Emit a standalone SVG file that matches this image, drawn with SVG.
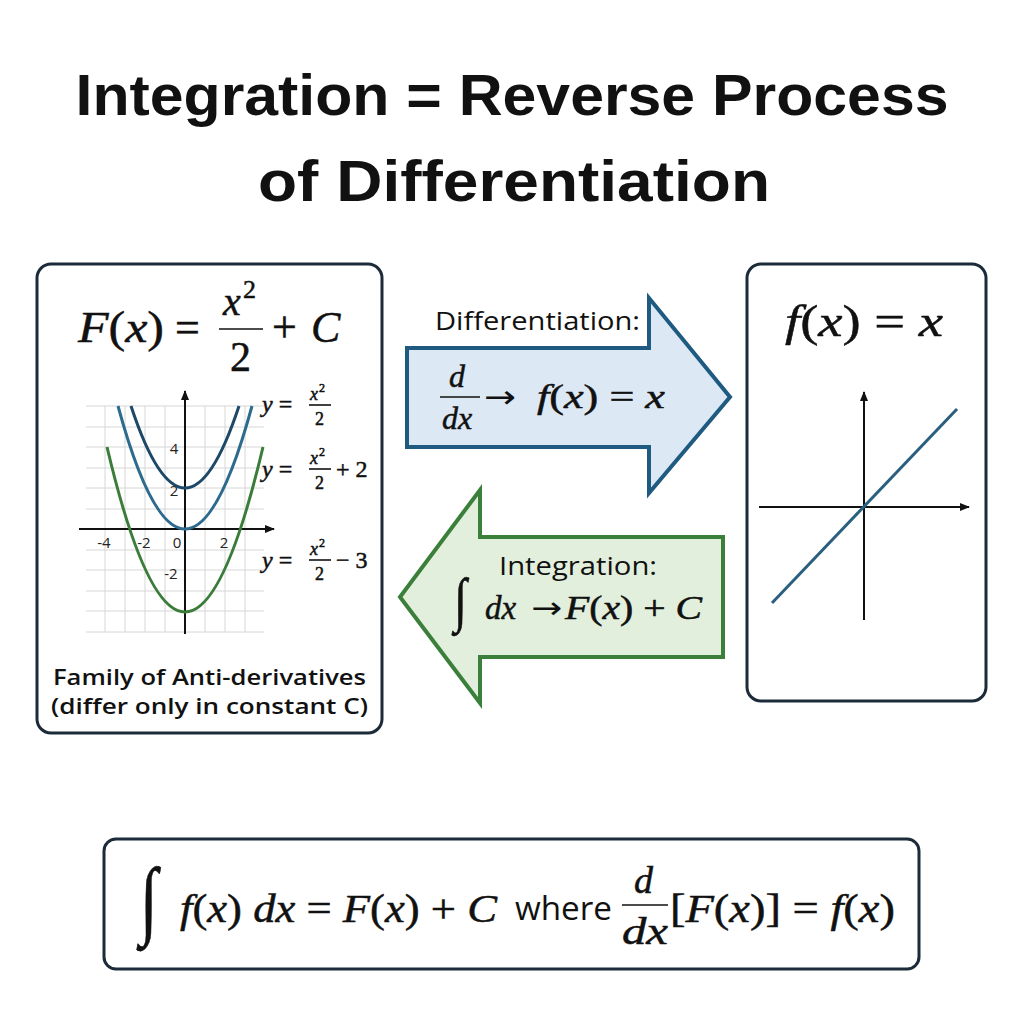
<svg xmlns="http://www.w3.org/2000/svg" width="1024" height="1024" viewBox="0 0 1024 1024">
<defs>
<style>
.title{font-family:"Liberation Sans","Open Sans",sans-serif;font-weight:bold;font-size:58px;fill:#111;text-anchor:middle}
.sans{font-family:"Open Sans","Liberation Sans",sans-serif;fill:#111}
.semi{font-weight:600}
.math{font-family:"Liberation Serif","DejaVu Serif",serif;fill:#111;stroke:#111;stroke-width:0.5}
.arr{font-family:"DejaVu Sans",sans-serif;fill:#111}
.it{font-style:italic}
.box{fill:#fff;stroke:#1c2b3a;stroke-width:3}
.grid{stroke:#d6d6d6;stroke-width:1;fill:none}
.axis{stroke:#111;stroke-width:2;fill:none}
.tick{font-family:"Open Sans","Liberation Sans",sans-serif;font-size:15px;fill:#222;text-anchor:middle}
.bar{stroke:#111;stroke-width:1.6}
</style>
<marker id="ah" viewBox="0 0 10 10" refX="9" refY="5" markerWidth="5" markerHeight="5" orient="auto"><path d="M0,1 L10,5 L0,9 Z" fill="#111"/></marker>
</defs>
<rect width="1024" height="1024" fill="#fff"/>

<g id="title">
<text class="title" x="512" y="115" textLength="873" lengthAdjust="spacingAndGlyphs">Integration = Reverse Process</text>
<text class="title" x="514" y="201" textLength="512" lengthAdjust="spacingAndGlyphs">of Differentiation</text>
</g>

<g id="antiderivative-box">
<rect class="box" x="37" y="264" width="345" height="469" rx="14"/>
<text class="math" font-size="44" x="78" y="342" textLength="86" lengthAdjust="spacingAndGlyphs"><tspan class="it">F</tspan>(<tspan class="it">x</tspan>)</text>
<text class="math" font-size="44" x="175" y="342">=</text>
<text class="math it" font-size="40" x="223" y="315">x</text>
<text class="math" font-size="26" x="243" y="298">2</text>
<line class="bar" x1="219" y1="329" x2="263" y2="329" stroke-width="2.4"/>
<text class="math" font-size="42" x="230" y="371">2</text>
<text class="math" font-size="44" x="272" y="342">+</text>
<text class="math it" font-size="44" x="311" y="342">C</text>

<g id="grid">
<path class="grid" d="M105,406V632M125,406V632M145,406V632M165,406V632M205,406V632M225,406V632M245,406V632M86,406H264M86,427H264M86,447H264M86,468H264M86,488H264M86,509H264M86,550H264M86,570H264M86,591H264M86,611H264M86,632H264"/>
<line class="axis" x1="79" y1="529" x2="274" y2="529" marker-end="url(#ah)"/>
<line class="axis" x1="185" y1="634" x2="185" y2="391" marker-end="url(#ah)"/>
<text class="tick" x="174" y="454">4</text>
<text class="tick" x="174" y="496">2</text>
<text class="tick" x="104" y="548">-4</text>
<text class="tick" x="144" y="548">-2</text>
<text class="tick" x="177" y="548">0</text>
<text class="tick" x="224" y="548">2</text>
<text class="tick" x="171" y="579">-2</text>
<path d="M107,447 Q185,777 263,447" fill="none" stroke="#3a7d3a" stroke-width="3"/>
<path d="M118,406 Q185,652 252,406" fill="none" stroke="#2c6a8e" stroke-width="3"/>
<path d="M131,406 Q185,570 239,406" fill="none" stroke="#1d4868" stroke-width="3"/>
</g>

<g id="curve-labels">
<text class="math" font-size="24" x="262" y="412"><tspan class="it">y</tspan> =</text>
<text class="math it" font-size="18" x="310" y="400">x</text><text class="math" font-size="12" x="319" y="392">2</text>
<line class="bar" x1="309" y1="405" x2="331" y2="405"/>
<text class="math" font-size="18" x="315" y="425">2</text>

<text class="math" font-size="24" x="262" y="477"><tspan class="it">y</tspan> =</text>
<text class="math it" font-size="18" x="310" y="464">x</text><text class="math" font-size="12" x="319" y="456">2</text>
<line class="bar" x1="309" y1="469" x2="331" y2="469"/>
<text class="math" font-size="18" x="315" y="489">2</text>
<text class="math" font-size="24" x="336" y="477">+ 2</text>

<text class="math" font-size="24" x="262" y="568"><tspan class="it">y</tspan> =</text>
<text class="math it" font-size="18" x="310" y="555">x</text><text class="math" font-size="12" x="319" y="547">2</text>
<line class="bar" x1="309" y1="560" x2="331" y2="560"/>
<text class="math" font-size="18" x="315" y="580">2</text>
<text class="math" font-size="24" x="336" y="568">− 3</text>
</g>

<text class="sans semi" font-size="22" x="53" y="685" textLength="313" lengthAdjust="spacingAndGlyphs">Family of Anti-derivatives</text>
<text class="sans semi" font-size="22" x="51" y="714" textLength="317" lengthAdjust="spacingAndGlyphs">(differ only in constant C)</text>
</g>

<g id="function-box">
<rect class="box" x="747" y="264" width="239" height="437" rx="14"/>
<text class="math" font-size="44" x="785" y="336" textLength="158" lengthAdjust="spacingAndGlyphs"><tspan class="it">f</tspan>(<tspan class="it">x</tspan>) = <tspan class="it">x</tspan></text>
<line class="axis" x1="759" y1="507" x2="969" y2="507" marker-end="url(#ah)"/>
<line class="axis" x1="864" y1="620" x2="864" y2="392" marker-end="url(#ah)"/>
<line x1="772" y1="603" x2="957" y2="409" stroke="#2a5f80" stroke-width="3"/>
</g>

<g id="connectors">
<g id="differentiation-arrow">
<path d="M407,348 L649,348 L649,298 L730,397 L649,493 L649,447 L407,447 Z" fill="#dce8f4" stroke="#1f5a80" stroke-width="4" stroke-linejoin="miter"/>
<text class="sans" font-size="25" x="435" y="330" textLength="205" lengthAdjust="spacingAndGlyphs">Differentiation:</text>
<text class="math it" font-size="32" x="449" y="387">d</text>
<line class="bar" x1="440" y1="397" x2="480" y2="397" stroke-width="2"/>
<text class="math it" font-size="32" x="442" y="429">dx</text>
<text class="arr" font-size="32" x="484" y="408" textLength="32" lengthAdjust="spacingAndGlyphs">→</text>
<text class="math" font-size="34" x="537" y="408" textLength="128" lengthAdjust="spacingAndGlyphs"><tspan class="it">f</tspan>(<tspan class="it">x</tspan>) = <tspan class="it">x</tspan></text>
</g>
<g id="integration-arrow">
<path d="M723,537 L723,657 L480,657 L480,703 L400,597 L480,490 L480,537 Z" fill="#e2efdc" stroke="#3b7f3b" stroke-width="4" stroke-linejoin="miter"/>
<text class="sans" font-size="26" x="499" y="575" textLength="158" lengthAdjust="spacingAndGlyphs">Integration:</text>
<text class="math" font-size="46" x="454" y="620" transform="translate(0,-186) scale(1,1.3)">∫</text>
<text class="math it" font-size="33" x="485" y="619">dx</text>
<text class="arr" font-size="30" x="531" y="618" textLength="31" lengthAdjust="spacingAndGlyphs">→</text>
<text class="math" font-size="33" x="565" y="619" textLength="137" lengthAdjust="spacingAndGlyphs"><tspan class="it">F</tspan>(<tspan class="it">x</tspan>) + <tspan class="it">C</tspan></text>
</g>
</g>

<g id="formula-box">
<rect class="box" x="104" y="839" width="815" height="130" rx="12"/>
<text class="math" font-size="64" x="140" y="928" transform="translate(0,-324.8) scale(1,1.35)">∫</text>
<text class="math" font-size="40" x="180" y="922" textLength="317" lengthAdjust="spacingAndGlyphs"><tspan class="it">f</tspan>(<tspan class="it">x</tspan>) <tspan class="it">dx</tspan> = <tspan class="it">F</tspan>(<tspan class="it">x</tspan>) + <tspan class="it">C</tspan></text>
<text class="sans" font-size="33" x="515" y="920" textLength="97" lengthAdjust="spacingAndGlyphs">where</text>
<text class="math it" font-size="38" x="634" y="893">d</text>
<line class="bar" x1="622" y1="905" x2="668" y2="905" stroke-width="2.2"/>
<text class="math it" font-size="38" x="622" y="944" textLength="46" lengthAdjust="spacingAndGlyphs">dx</text>
<text class="math" font-size="40" x="670" y="922" textLength="225" lengthAdjust="spacingAndGlyphs">[<tspan class="it">F</tspan>(<tspan class="it">x</tspan>)] = <tspan class="it">f</tspan>(<tspan class="it">x</tspan>)</text>
</g>
</svg>
